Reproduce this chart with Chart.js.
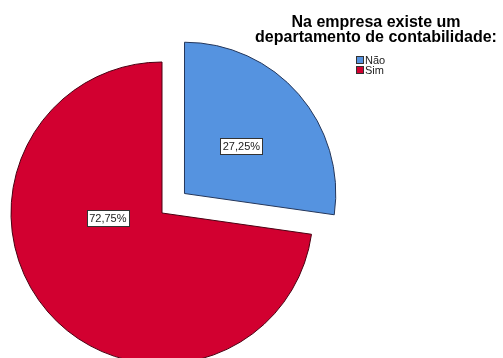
<html>
<head>
<meta charset="UTF-8">
<title>Departamento de contabilidade</title>
<script src="https://cdn.jsdelivr.net/npm/chart.js@4/dist/chart.umd.min.js"></script>
<style>
  body { margin: 0; background: #fff; }
  #wrap { position: relative; width: 503px; height: 358px; overflow: hidden; }
  #pie { position: absolute; left: 0; top: 0; }
  #legendTitle {
    position: absolute; left: 226px; top: 14px; width: 300px;
    text-align: center; font: bold 16px Arial, "Liberation Sans", sans-serif;
    line-height: 15px; color: #000;
  }
  #legendItems { position: absolute; left: 356px; top: 55px; font: 11px Arial, "Liberation Sans", sans-serif; color: #222; }
  .item { display: flex; align-items: center; height: 10px; line-height: 10px; }
  .box { width: 6px; height: 6px; border: 1px solid #333; margin-right: 1px; }
</style>
</head>
<body>
<div id="wrap">
  <canvas id="pie" width="503" height="426"></canvas>
  <div id="legendTitle">Na empresa existe um<br>departamento de contabilidade:</div>
  <div id="legendItems"></div>
</div>

<script>
// categories and percentages
var categories = ["Não", "Sim"];
var percentages = [27.25, 72.75];
var fillColours = ["#5593e0", "#d20030"];
var edgeColours = ["#24365a", "#4a0012"];

function fmtPct(v) {
  return v.toFixed(2).replace(".", ",") + "%";
}

// legend built from the same arrays
var legendBox = document.getElementById("legendItems");
categories.forEach(function (c, i) {
  var row = document.createElement("div");
  row.className = "item";
  var sw = document.createElement("span");
  sw.className = "box";
  sw.style.background = fillColours[i];
  var tx = document.createElement("span");
  tx.textContent = c;
  row.appendChild(sw);
  row.appendChild(tx);
  legendBox.appendChild(row);
});

// boxed percentage labels; angle/radius given as fractions of each slice
var sliceLabels = {
  id: "sliceLabels",
  afterDatasetsDraw: function (chart, args, opts) {
    var ctx = chart.ctx;
    var meta = chart.getDatasetMeta(0);
    meta.data.forEach(function (arc, i) {
      var p = arc.getProps(["x", "y", "startAngle", "endAngle", "outerRadius", "circumference"], true);
      var off = arc.options.offset || 0;
      var half = (p.startAngle + p.endAngle) / 2;
      // same shift the arc element applies when drawing an offset slice
      var fix = 1 - Math.sin(Math.min(Math.PI, p.circumference || 0));
      var shift = off / 4 * (1 + fix);
      var cx = p.x + Math.cos(half) * shift;
      var cy = p.y + Math.sin(half) * shift;
      var a = p.startAngle + opts.angleFrac[i] * (p.endAngle - p.startAngle);
      var r = opts.radiusFrac[i] * p.outerRadius;
      var lx = cx + Math.cos(a) * r;
      var ly = cy + Math.sin(a) * r;
      var txt = fmtPct(percentages[i]);
      ctx.save();
      ctx.font = "11px Arial, 'Liberation Sans', sans-serif";
      var w = Math.round(ctx.measureText(txt).width) + 5;
      var h = 16;
      var bx = Math.round(lx - w / 2) + 0.5;
      var by = Math.round(ly - h / 2) + 0.5;
      ctx.fillStyle = "#fff";
      ctx.fillRect(bx, by, w, h);
      ctx.strokeStyle = "#333";
      ctx.lineWidth = 1;
      ctx.strokeRect(bx, by, w, h);
      ctx.fillStyle = "#222";
      ctx.textAlign = "center";
      ctx.textBaseline = "middle";
      ctx.fillText(txt, lx, ly + 1);
      ctx.restore();
    });
  }
};

var chart = new Chart(document.getElementById("pie").getContext("2d"), {
  type: "pie",
  data: {
    labels: categories,
    datasets: [{
      data: percentages,
      backgroundColor: fillColours,
      borderColor: edgeColours,
      borderWidth: 1,
      offset: [119, 0],
      hoverOffset: 0,
      clip: false
    }]
  },
  options: {
    responsive: false,
    animation: false,
    radius: 151,
    layout: { padding: { left: 0, right: 179, top: 0, bottom: 0 } },
    plugins: {
      legend: { display: false },
      tooltip: { enabled: false },
      sliceLabels: { angleFrac: [0.51, 0.638], radiusFrac: [0.49, 0.36] }
    },
    events: []
  },
  plugins: [sliceLabels]
});
</script>
</body>
</html>
